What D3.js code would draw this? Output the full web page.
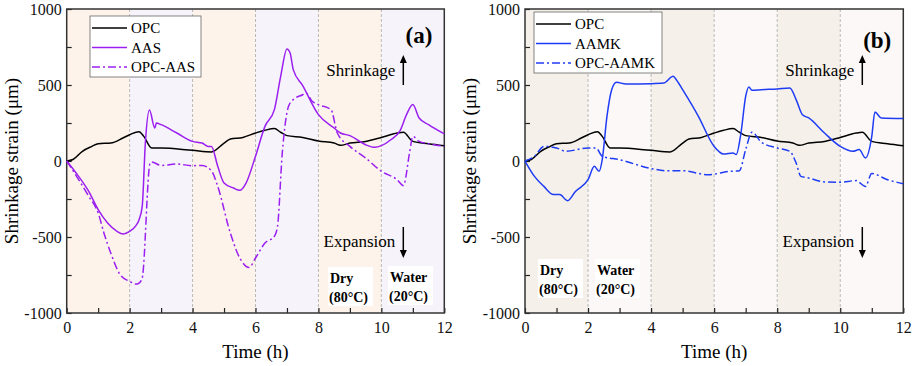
<!DOCTYPE html>
<html>
<head>
<meta charset="utf-8">
<script src="https://cdnjs.cloudflare.com/ajax/libs/d3/7.8.5/d3.min.js"></script>
<style>
  body { margin: 0; background: #fff; }
  svg text { font-family: "Times New Roman", Times, "Liberation Serif", Tinos, serif; }
</style>
</head>
<body>
<div id="chart"></div>
<script>
// time (h) and strain (um)
var opcT   = [0, 0.2, 0.5, 0.8, 1.0, 1.4, 1.8, 2.0, 2.3, 2.45, 2.7, 3, 4, 4.6, 5, 5.2, 5.6, 6, 6.3, 6.6, 6.8, 7, 7.5, 8, 8.5, 8.7, 9, 9.5, 10, 10.5, 10.7, 11, 11.5, 12];
var opcV   = [0, 10, 64, 96, 114, 118, 153, 173, 193, 162, 86, 86, 70, 60, 118, 145, 155, 184, 202, 213, 189, 167, 155, 131, 118, 103, 118, 129, 155, 184, 189, 129, 114, 101];

var aasT   = [0, 0.3, 0.7, 1.0, 1.3, 1.6, 1.8, 2.0, 2.2, 2.3, 2.4, 2.5, 2.63, 2.8, 2.85, 3, 3.5, 4, 4.3, 4.5, 4.6, 4.8, 5.0, 5.3, 5.5, 5.7, 6.0, 6.3, 6.6, 6.8, 7.0, 7.1, 7.2, 7.5, 8, 8.5, 8.7, 9, 9.5, 9.8, 10, 10.3, 10.6, 10.8, 11.0, 11.2, 11.5, 12];
var aasV   = [0, -79, -200, -320, -408, -463, -480, -463, -425, -386, -298, 120, 335, 217, 250, 239, 184, 129, 118, 96, 96, -35, -145, -178, -193, -145, 31, 228, 338, 557, 737, 710, 601, 496, 305, 217, 184, 167, 107, 90, 101, 140, 202, 305, 371, 283, 239, 178];

var opcAasT = [0, 0.7, 1.0, 1.2, 1.4, 1.7, 2.0, 2.2, 2.3, 2.4, 2.65, 2.7, 3, 3.5, 4, 4.3, 4.6, 4.8, 5.2, 5.5, 5.8, 6, 6.3, 6.6, 6.7, 6.85, 7.05, 7.2, 7.5, 7.6, 7.8, 8, 8.4, 8.6, 9, 9.5, 10, 10.5, 10.7, 10.9, 11, 11.2, 11.5, 12];
var opcAasV = [0, -232, -342, -485, -605, -748, -792, -810, -803, -770, -13, -7, -29, -20, -31, -29, -64, -167, -474, -638, -700, -638, -540, -496, -430, 50, 360, 404, 436, 447, 393, 371, 338, 184, 96, 20, -68, -123, -162, 60, 162, 129, 114, 96];

var aamkT  = [0, 0.3, 0.6, 0.9, 1.1, 1.35, 1.6, 2.0, 2.2, 2.35, 2.45, 2.6, 2.75, 2.9, 3.2, 4, 4.4, 4.7, 4.8, 5.0, 5.5, 6.0, 6.3, 6.6, 6.7, 6.85, 7.0, 7.1, 7.2, 7.5, 8, 8.4, 8.6, 8.8, 9.0, 9.5, 10, 10.4, 10.6, 10.8, 11.0, 11.1, 11.3, 12];
var aamkV  = [0, -101, -167, -221, -221, -261, -200, -123, -35, -68, 9, 294, 469, 518, 507, 509, 513, 557, 535, 469, 294, 96, 46, 53, 42, 184, 425, 487, 465, 469, 474, 480, 404, 305, 283, 184, 96, 64, 75, 20, 162, 322, 283, 279];

var opcAamkT = [0, 0.3, 0.6, 1.0, 1.3, 2.0, 2.25, 2.45, 3, 4, 4.5, 5.0, 5.8, 6.5, 6.8, 7.0, 7.2, 7.5, 8, 8.4, 8.6, 8.75, 9, 9.5, 10, 10.5, 10.8, 11.0, 11.5, 12];
var opcAamkV = [0, 31, 96, 86, 64, 86, 86, 31, 9, -50, -64, -64, -90, -68, -64, 75, 189, 123, 86, 64, -13, -101, -112, -138, -140, -129, -167, -83, -123, -149];

var phases = [0, 2, 4, 6, 8, 10, 12];
var xTicks = [0, 2, 4, 6, 8, 10, 12];
var yTicks = [-1000, -500, 0, 500, 1000];

function zip(t, v) { return t.map(function(d, i) { return {t: d, v: v[i]}; }); }

var w = 913, h = 366;
var plotTop = 9, plotBottom = 313;
var serif = "'Times New Roman', Times, 'Liberation Serif', Tinos, serif";

var svg = d3.select("#chart").append("svg")
    .attr("width", w)
    .attr("height", h);

function panel(cfg) {
    var xScale = d3.scaleLinear().domain([0, 12]).range([cfg.left, cfg.right]);
    var yScale = d3.scaleLinear().domain([-1000, 1000]).range([plotBottom, plotTop]);
    var g = svg.append("g").attr("font-family", serif);

    // dry / water bands
    for (var i = 0; i < phases.length - 1; i++) {
        g.append("rect")
            .attr("x", xScale(phases[i]))
            .attr("y", plotTop)
            .attr("width", xScale(phases[i + 1]) - xScale(phases[i]))
            .attr("height", plotBottom - plotTop)
            .attr("fill", i % 2 === 0 ? cfg.band1 : cfg.band2);
    }
    // dashed separators
    g.selectAll(".sep").data(phases.slice(1, -1)).enter().append("line")
        .attr("x1", function(d) { return xScale(d); })
        .attr("x2", function(d) { return xScale(d); })
        .attr("y1", plotTop).attr("y2", plotBottom)
        .attr("stroke", "#aaa")
        .attr("stroke-width", 0.8)
        .attr("stroke-dasharray", "3,2");

    // axes, ticks inward
    var xAxis = d3.axisBottom(xScale).tickValues(d3.range(0, 13, 1))
        .tickSize(-5).tickPadding(9)
        .tickFormat(function(d) { return xTicks.indexOf(d) >= 0 ? d : ""; });
    var yAxis = d3.axisLeft(yScale).tickValues(d3.range(-1000, 1001, 250))
        .tickSize(-5).tickPadding(5)
        .tickFormat(function(d) { return yTicks.indexOf(d) >= 0 ? d : ""; });

    var gx = g.append("g").attr("transform", "translate(0," + plotBottom + ")").call(xAxis);
    var gy = g.append("g").attr("transform", "translate(" + cfg.left + ",0)").call(yAxis);
    [gx, gy].forEach(function(a) {
        a.attr("font-family", serif);
        a.select(".domain").remove();
        a.selectAll("line").attr("stroke", "#222").attr("stroke-width", 1.2);
        a.selectAll("text").style("font-size", "16px").attr("fill", "#111");
    });

    g.append("rect")
        .attr("x", cfg.left).attr("y", plotTop)
        .attr("width", cfg.right - cfg.left).attr("height", plotBottom - plotTop)
        .attr("fill", "none").attr("stroke", "#333").attr("stroke-width", 1.5);

    // lines
    var line = d3.line()
        .x(function(d) { return xScale(d.t); })
        .y(function(d) { return yScale(d.v); })
        .curve(d3.curveMonotoneX);

    cfg.series.forEach(function(s) {
        g.append("path")
            .datum(zip(s.t, s.v))
            .attr("d", line)
            .attr("fill", "none")
            .attr("stroke", s.color)
            .attr("stroke-width", 1.5)
            .attr("stroke-dasharray", s.dash ? "8,3,2,3" : null);
    });

    // legend
    var lg = g.append("g");
    lg.append("rect")
        .attr("x", cfg.legX).attr("y", cfg.legY)
        .attr("width", cfg.legW).attr("height", 61)
        .attr("fill", "#fff").attr("stroke", "#666").attr("stroke-width", 0.8);
    cfg.series.forEach(function(s, i) {
        var yy = cfg.legY + 12 + i * 19.5;
        lg.append("line")
            .attr("x1", cfg.legX + 2).attr("x2", cfg.legX + 37)
            .attr("y1", yy).attr("y2", yy)
            .attr("stroke", s.color).attr("stroke-width", 1.5)
            .attr("stroke-dasharray", s.dash ? "8,3,2,3" : null);
        lg.append("text")
            .attr("x", cfg.legX + 41).attr("y", yy + 5)
            .style("font-size", "15px")
            .text(s.name);
    });

    // panel label
    g.append("text")
        .attr("x", cfg.right - 12).attr("y", cfg.labY)
        .attr("text-anchor", "end")
        .style("font-size", "23px").style("font-weight", "bold")
        .text(cfg.label);

    // shrinkage / expansion
    var ax = cfg.right - 41;
    g.append("text").attr("x", ax - 8).attr("y", 76).attr("text-anchor", "end")
        .style("font-size", "17px").text("Shrinkage");
    g.append("text").attr("x", ax - 8).attr("y", 247).attr("text-anchor", "end")
        .style("font-size", "17px").text("Expansion");
    g.append("line").attr("x1", ax).attr("x2", ax).attr("y1", 85).attr("y2", 62)
        .attr("stroke", "#000").attr("stroke-width", 1.5);
    g.append("path").attr("d", "M" + (ax - 3.5) + ",63 L" + ax + ",55 L" + (ax + 3.5) + ",63 Z");
    g.append("line").attr("x1", ax).attr("x2", ax).attr("y1", 227).attr("y2", 251)
        .attr("stroke", "#000").attr("stroke-width", 1.5);
    g.append("path").attr("d", "M" + (ax - 3.5) + ",250 L" + ax + ",258 L" + (ax + 3.5) + ",250 Z");

    // dry / water tags
    cfg.tags.forEach(function(tg) {
        g.append("rect").attr("x", tg.x).attr("y", tg.y)
            .attr("width", 45).attr("height", 39).attr("fill", "#fff");
        g.append("text").attr("x", tg.x + 2).attr("y", tg.y + 16)
            .style("font-size", "14px").style("font-weight", "bold").text(tg.a);
        g.append("text").attr("x", tg.x + 1).attr("y", tg.y + 35)
            .style("font-size", "14px").style("font-weight", "bold").text(tg.b);
    });

    // axis titles
    g.append("text")
        .attr("x", (cfg.left + cfg.right) / 2).attr("y", 358)
        .attr("text-anchor", "middle").style("font-size", "19px")
        .text("Time (h)");
    g.append("text")
        .attr("transform", "translate(" + (cfg.left - 49) + "," + ((plotTop + plotBottom) / 2) + ") rotate(-90)")
        .attr("text-anchor", "middle").style("font-size", "19px")
        .text("Shrinkage strain (\u03bcm)");
}

panel({
    left: 66.7, right: 444.3,
    band1: "#fdf3ea", band2: "#f6f4fa",
    label: "(a)", labY: 43,
    legX: 90, legY: 16, legW: 111,
    series: [
        {name: "OPC", t: opcT, v: opcV, color: "#000"},
        {name: "AAS", t: aasT, v: aasV, color: "#9b1ff0"},
        {name: "OPC-AAS", t: opcAasT, v: opcAasV, color: "#9b1ff0", dash: true}
    ],
    tags: [
        {x: 328, y: 267, a: "Dry", b: "(80\u00b0C)"},
        {x: 388, y: 266, a: "Water", b: "(20\u00b0C)"}
    ]
});

panel({
    left: 525, right: 903.3,
    band1: "#f5f1ea", band2: "#fbf8f7",
    label: "(b)", labY: 48,
    legX: 534, legY: 12, legW: 128,
    series: [
        {name: "OPC", t: opcT, v: opcV, color: "#000"},
        {name: "AAMK", t: aamkT, v: aamkV, color: "#1f3cf5"},
        {name: "OPC-AAMK", t: opcAamkT, v: opcAamkV, color: "#1f3cf5", dash: true}
    ],
    tags: [
        {x: 538, y: 259, a: "Dry", b: "(80\u00b0C)"},
        {x: 595, y: 259, a: "Water", b: "(20\u00b0C)"}
    ]
});
</script>
</body>
</html>
